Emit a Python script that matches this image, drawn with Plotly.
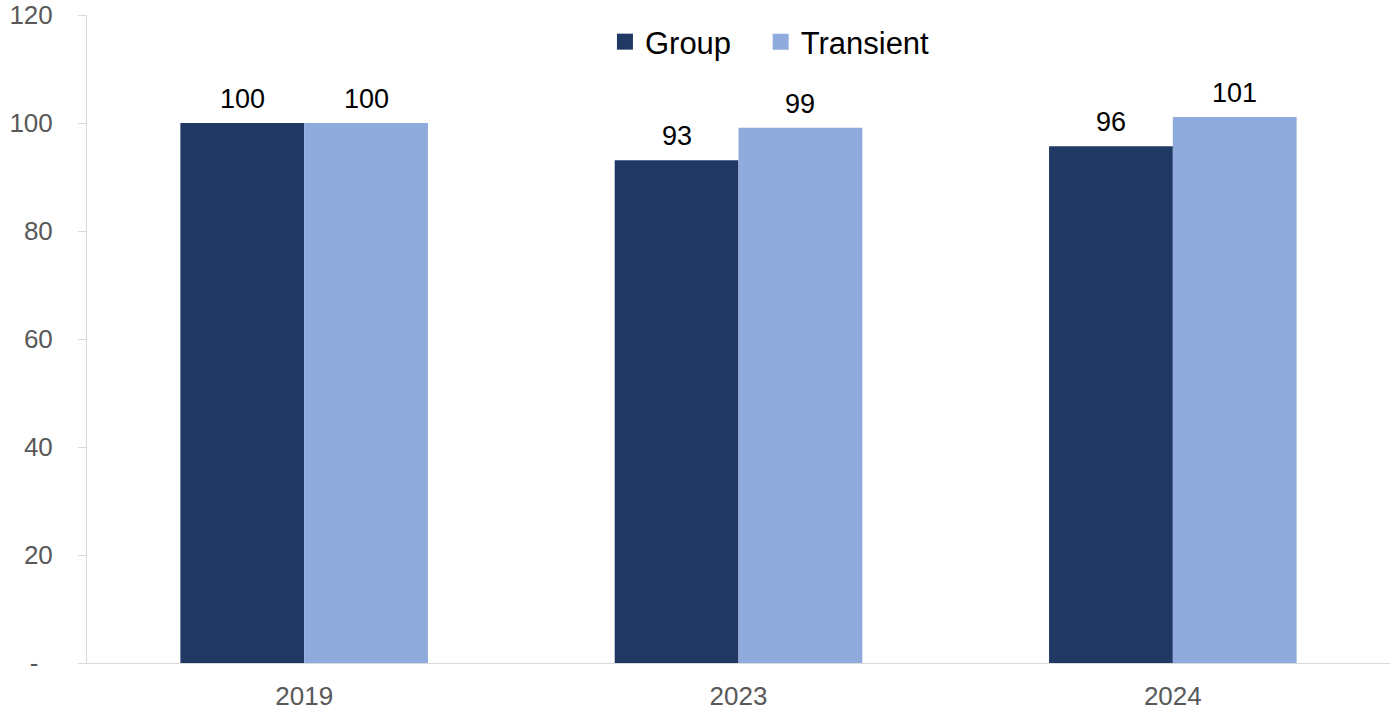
import plotly.graph_objects as go

years = ["2019", "2023", "2024"]
group = [100, 93.1, 95.7]
transient = [100, 99.1, 101.1]
series_names = ["Group", "Transient"]
series_colors = ["#203864", "#8FAADC"]
ytick_vals = [0, 20, 40, 60, 80, 100, 120]
ytick_text = ["-\u00a0\u00a0", "20", "40", "60", "80", "100", "120"]

font_family = "Liberation Sans, Arial, sans-serif"
bargap = 0.43
plot_w = 1390 - 87
cat_px = plot_w / len(years)
bar_px = cat_px * (1 - bargap) / 2

legend_ids = ["legend", "legend2"]
legend_x = [0.3975, 0.5170]

fig = go.Figure()
for name, vals, col, lid in zip(series_names, [group, transient], series_colors, legend_ids):
    fig.add_trace(go.Bar(
        name=name, x=years, y=vals, marker_color=col,
        marker_line_width=0, showlegend=False,
    ))
    fig.add_trace(go.Scatter(
        name=name, x=[years[0]], y=[None], mode="markers",
        marker=dict(symbol="square", size=16, color=col),
        showlegend=True, legend=lid,
    ))

annotations = []
for j, vals in enumerate([group, transient]):
    shift = (-0.5 if j == 0 else 0.5) * bar_px
    for i, v in enumerate(vals):
        annotations.append(dict(
            x=i, y=v, xref="x", yref="y", text=f"{v:.0f}",
            showarrow=False, xanchor="center", yanchor="bottom",
            xshift=shift, yshift=7,
            font=dict(size=27, color="#000000", family=font_family),
        ))

legend_common = dict(
    orientation="h", xanchor="left", y=1.0, yanchor="top",
    font=dict(size=31, color="#000000", family=font_family),
    bgcolor="rgba(0,0,0,0)", itemwidth=30,
)

fig.update_layout(
    width=1390, height=710,
    margin=dict(l=87, r=0, t=15, b=47),
    paper_bgcolor="white", plot_bgcolor="white",
    barmode="group", bargap=bargap, bargroupgap=0,
    font=dict(family=font_family, size=26, color="#595959"),
    annotations=annotations,
    legend=dict(x=legend_x[0], **legend_common),
    legend2=dict(x=legend_x[1], **legend_common),
    xaxis=dict(
        type="category", categoryorder="array", categoryarray=years,
        range=[-0.5, len(years) - 0.5],
        showline=True, linecolor="#d9d9d9", linewidth=1,
        ticks="", showgrid=False, ticklabelstandoff=10, automargin=False,
        tickfont=dict(size=26, color="#595959"),
    ),
    yaxis=dict(
        range=[0, 120], tickvals=ytick_vals, ticktext=ytick_text,
        showline=True, linecolor="#d9d9d9", linewidth=1,
        ticks="outside", ticklen=8, tickcolor="#d9d9d9",
        showgrid=False, zeroline=False, ticklabelstandoff=20, automargin=False,
        tickfont=dict(size=26, color="#595959"),
    ),
)

fig.write_html("out.html")
